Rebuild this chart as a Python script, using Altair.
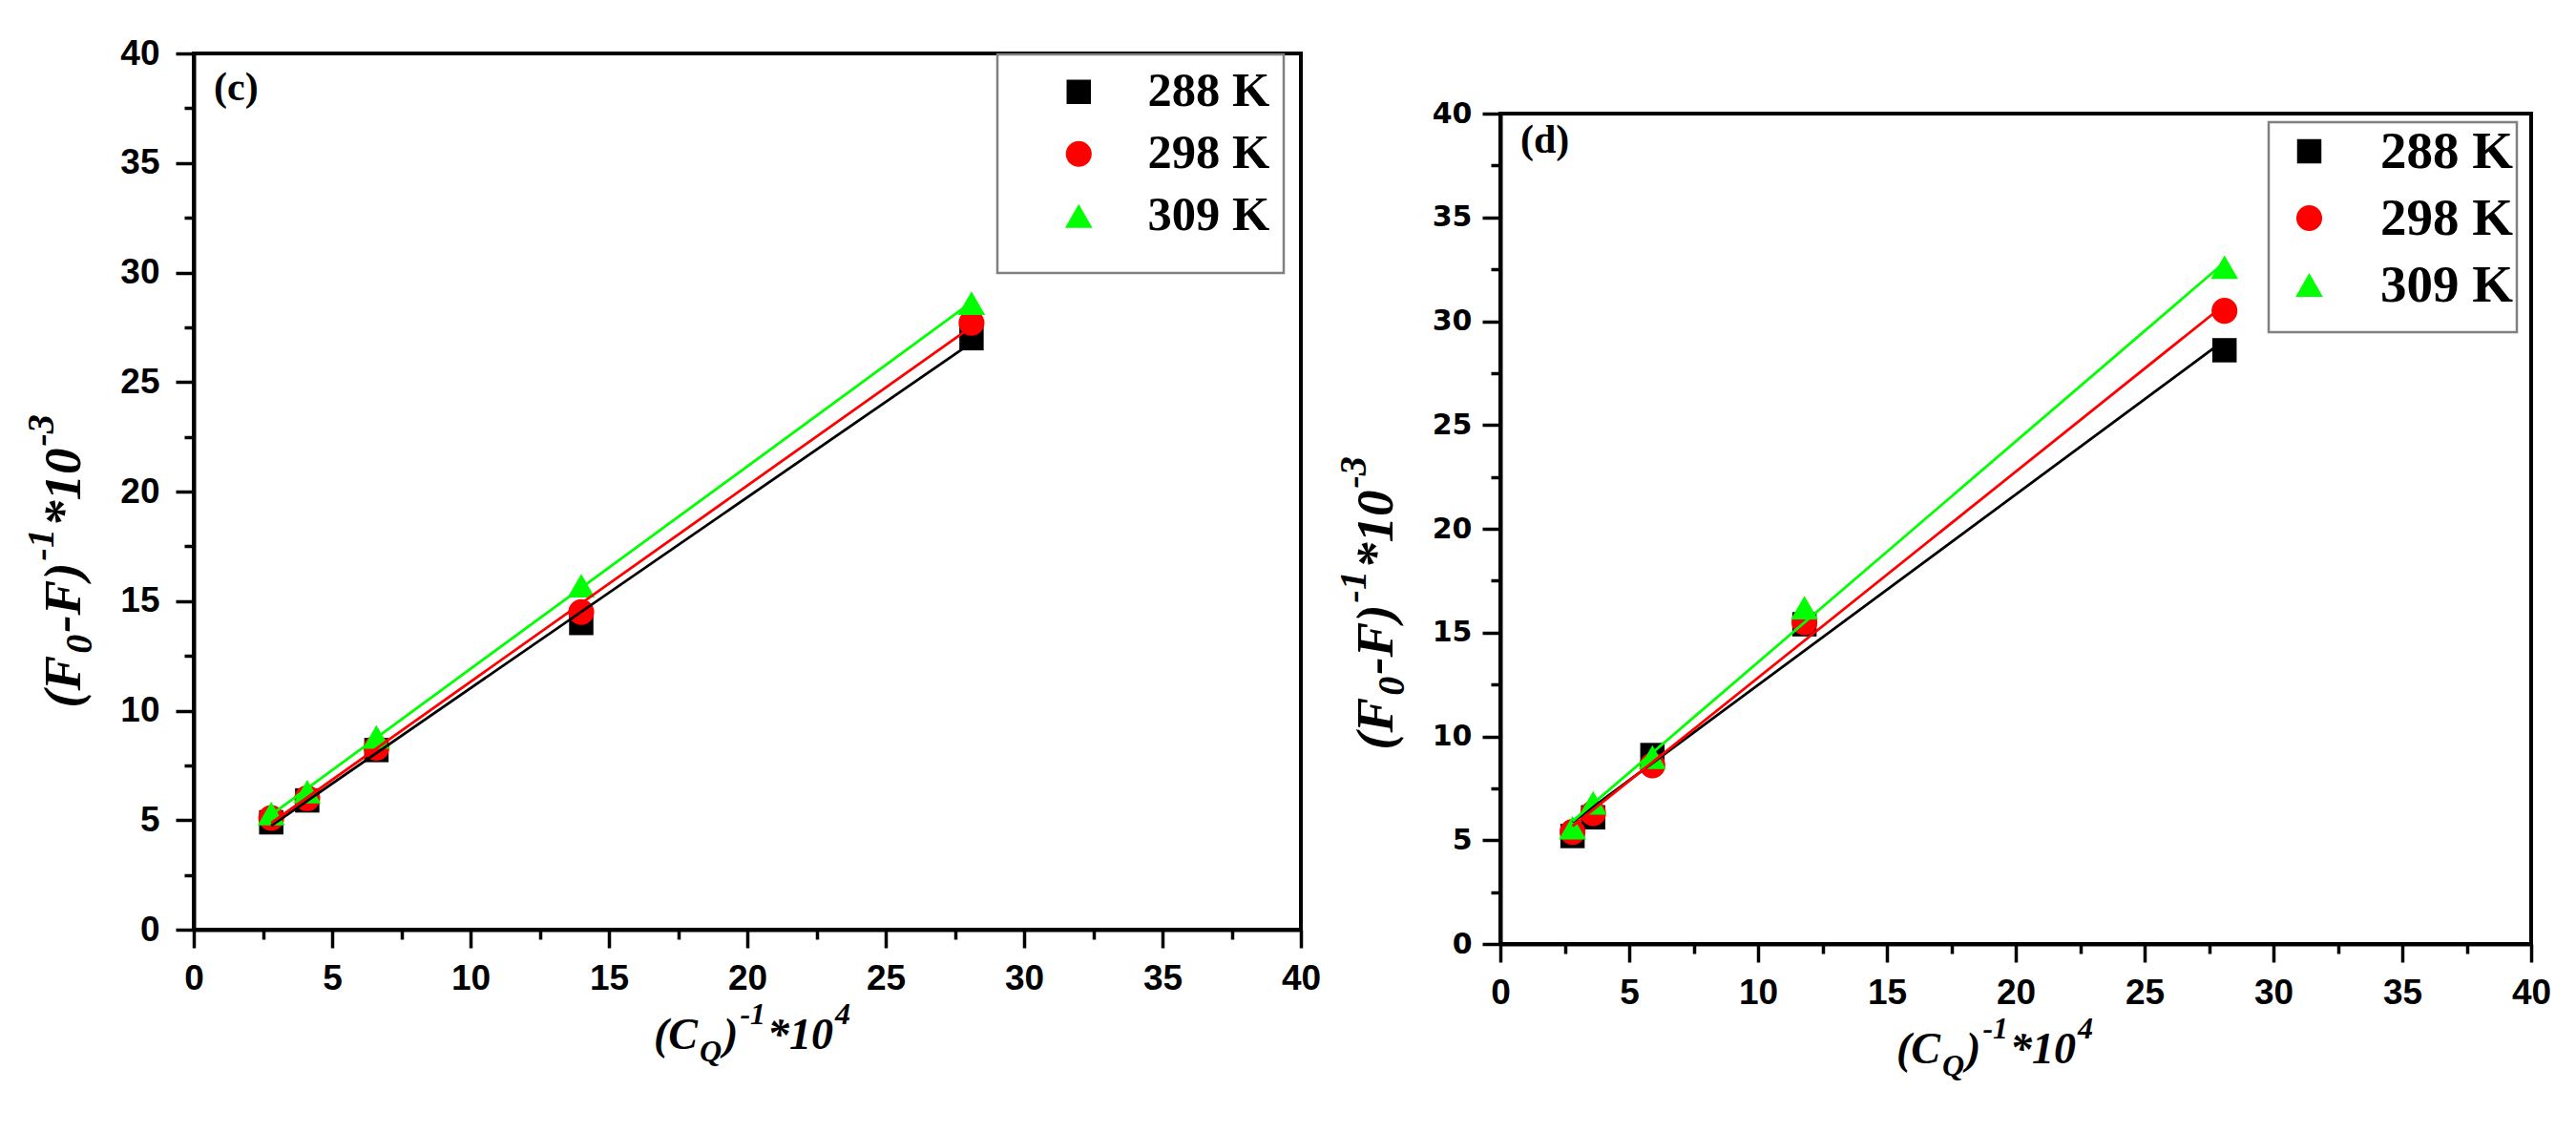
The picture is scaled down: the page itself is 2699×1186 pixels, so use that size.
import altair as alt
import pandas as pd

temps = ["288 K", "298 K", "309 K"]
colors = ["#000000", "#ff0000", "#00ff00"]
shapes = ["square", "circle", "triangle-up"]
marker_sizes = [650, 820, 1120]

# panel (c)
x_c = [2.8, 4.1, 6.6, 14.0, 28.1]
y_c_288 = [4.9, 5.9, 8.2, 14.0, 27.0]
y_c_298 = [5.1, 6.0, 8.3, 14.5, 27.7]
y_c_309 = [5.3, 6.3, 8.8, 15.7, 28.6]

# panel (d)
x_d = [2.8, 3.6, 5.9, 11.8, 28.1]
y_d_288 = [5.2, 6.1, 9.1, 15.4, 28.6]
y_d_298 = [5.4, 6.3, 8.6, 15.5, 30.5]
y_d_309 = [5.6, 6.8, 9.0, 16.2, 32.6]

tick_values = [0, 5, 10, 15, 20, 25, 30, 35, 40]
minor_values = [2.5, 7.5, 12.5, 17.5, 22.5, 27.5, 32.5, 37.5]

# axis-title pieces: (text, kind)  kind: main / sub / sup
y_title_parts = [("(F", "main"), ("0", "sub"), ("-F)", "main"), ("-1", "sup"),
                 ("*10", "main"), ("-3", "sup")]
x_title_parts = [("(C", "main"), ("Q", "sub"), (")", "main"), ("-1", "sup"),
                 ("*10", "main"), ("4", "sup")]


def long_table(xs, ys_list):
    rows = []
    for t, ys in zip(temps, ys_list):
        for x, y in zip(xs, ys):
            rows.append({"T": t, "x": x, "y": y})
    return pd.DataFrame(rows)


df_c = long_table(x_c, [y_c_288, y_c_298, y_c_309])
df_d = long_table(x_d, [y_d_288, y_d_298, y_d_309])
one = pd.DataFrame({"k": [0]})

SERIF = "Liberation Serif"
# approximate advance widths (em) for Liberation Serif bold italic
ADV = {"(": 0.333, ")": 0.333, "F": 0.667, "C": 0.667, "Q": 0.722, "-": 0.333,
       "*": 0.5, "0": 0.5, "1": 0.5, "3": 0.5, "4": 0.5}


def width(s, fs):
    return sum(ADV.get(ch, 0.5) for ch in s) * fs


def txt(text, px, py, size, style="normal", align="left", baseline="alphabetic", angle=0):
    kw = dict(text=text, font=SERIF, fontWeight="bold", fontStyle=style, fontSize=size,
              align=align, baseline=baseline, color="black")
    if angle:
        kw["angle"] = angle
    return alt.Chart(one).mark_text(**kw).encode(x=alt.value(px), y=alt.value(py))


def title_pieces(parts, horizontal, center, base, fs_main, fs_small, sub_shift, sup_shift, gap=2):
    layers = []
    pos = 0.0
    total = sum(width(t, fs_main if k == "main" else fs_small) + gap for t, k in parts)
    for t, k in parts:
        fs = fs_main if k == "main" else fs_small
        shift = 0 if k == "main" else (sub_shift if k == "sub" else -sup_shift)
        if horizontal:
            layers.append(txt(t, center - total / 2 + pos, base + shift, fs, "italic"))
        else:
            # rotated: text reads upward; 'raised' means further left
            layers.append(txt(t, base + shift, center + total / 2 - pos, fs, "italic", angle=270))
        pos += width(t, fs) + gap
    return layers


def panel(df, label, label_y, w, h, ylab_font, ylab_size, ylab_pad,
          yt_base, yt_center, leg, xt_center, xt_base):
    xs = alt.Scale(domain=[0, 40], nice=False, zero=False)
    ys = alt.Scale(domain=[0, 40], nice=False, zero=False)
    cs = alt.Scale(domain=temps, range=colors)
    ss = alt.Scale(domain=temps, range=shapes)
    zs = alt.Scale(domain=temps, range=marker_sizes)

    major_x = alt.Axis(
        orient="bottom", values=tick_values, tickSize=19, tickWidth=3.5, tickColor="black",
        domainColor="black", domainWidth=4, labelFont="Liberation Sans", labelFontWeight="bold",
        labelFontSize=37, labelColor="black", labelPadding=14, grid=False, title=None,
        labelFlush=False, labelOverlap=False, format="d",
    )
    major_y = alt.Axis(
        orient="left", values=tick_values, tickSize=19, tickWidth=3.5, tickColor="black",
        domainColor="black", domainWidth=4, labelFont=ylab_font, labelFontWeight="bold",
        labelFontSize=ylab_size, labelColor="black", labelPadding=ylab_pad, grid=False,
        labelFlush=False, labelOverlap=False, format="d", title=None,
    )
    minor_x = alt.Axis(
        orient="bottom", values=minor_values, tickSize=10, tickWidth=3.5, tickColor="black",
        domain=False, labels=False, grid=False, title=None,
    )
    minor_y = alt.Axis(
        orient="left", values=minor_values, tickSize=10, tickWidth=3.5, tickColor="black",
        domain=False, labels=False, grid=False, title=None,
    )

    minor = alt.Chart(df).mark_point(opacity=0).encode(
        x=alt.X("x:Q", scale=xs, axis=minor_x),
        y=alt.Y("y:Q", scale=ys, axis=minor_y),
    )
    pts = alt.Chart(df).mark_point(filled=True, opacity=1).encode(
        x=alt.X("x:Q", scale=xs, axis=major_x),
        y=alt.Y("y:Q", scale=ys, axis=major_y),
        color=alt.Color("T:N", scale=cs, legend=leg),
        shape=alt.Shape("T:N", scale=ss, legend=leg),
        size=alt.Size("T:N", scale=zs, legend=leg),
    )
    lines = alt.Chart(df).transform_regression(
        "x", "y", groupby=["T"]
    ).mark_line(strokeWidth=2.8).encode(
        x=alt.X("x:Q", scale=xs, axis=None),
        y=alt.Y("y:Q", scale=ys, axis=None),
        color=alt.Color("T:N", scale=cs, legend=None),
    )

    x_layers = title_pieces(x_title_parts, True, xt_center, xt_base, 46, 32, 13, 26)
    y_layers = title_pieces(y_title_parts, False, yt_center, yt_base, 55, 40, 12, 28)
    texts = [txt(label, 21, label_y, 42, baseline="top")] + x_layers + y_layers
    return alt.layer(minor, pts, lines, *texts).resolve_axis(
        x="independent", y="independent"
    ).properties(width=w, height=h)


def legend(x, y, pad, row, symoff, laboff, fs, bottom_space):
    return alt.Legend(
        title=" ", titleOrient="bottom", titleFontSize=bottom_space, titlePadding=0,
        orient="none", legendX=x, legendY=y,
        labelFont=SERIF, labelFontWeight="bold", labelFontSize=fs, labelColor="black",
        strokeColor="#808080", fillColor="white", padding=pad, rowPadding=row,
        symbolOffset=symoff, labelOffset=laboff, symbolStrokeWidth=0,
    )


LH, RH = 918, 870
left = panel(df_c, "(c)", 16, 1160, LH, "Liberation Sans", 37, 17,
             -119, 531, legend(842, 1, 14, 14, 46, 47, 50.5, 20), 586, LH + 125)
right_plot = panel(df_d, "(d)", 8, 1080, RH, "DejaVu Sans", 30, 11,
                   -113, 512, legend(805, 72, 3, 14, 12, 47, 55, 18), 519, RH + 125)

spacer = alt.Chart(one).mark_point(opacity=0).encode(
    x=alt.value(0), y=alt.value(0)
).properties(width=10, height=46, view=alt.ViewBackground(stroke=None))
right = alt.vconcat(spacer, right_plot, spacing=0)

chart = alt.hconcat(left, right, spacing=11).resolve_scale(
    color="independent", shape="independent", size="independent"
).properties(
    padding={"left": 14, "top": 27, "right": 5, "bottom": 5},
    background="white",
).configure_view(stroke="black", strokeWidth=4).configure_legend(strokeWidth=2.5)

chart.save("out.html", embed_options={"renderer": "svg", "actions": False})
